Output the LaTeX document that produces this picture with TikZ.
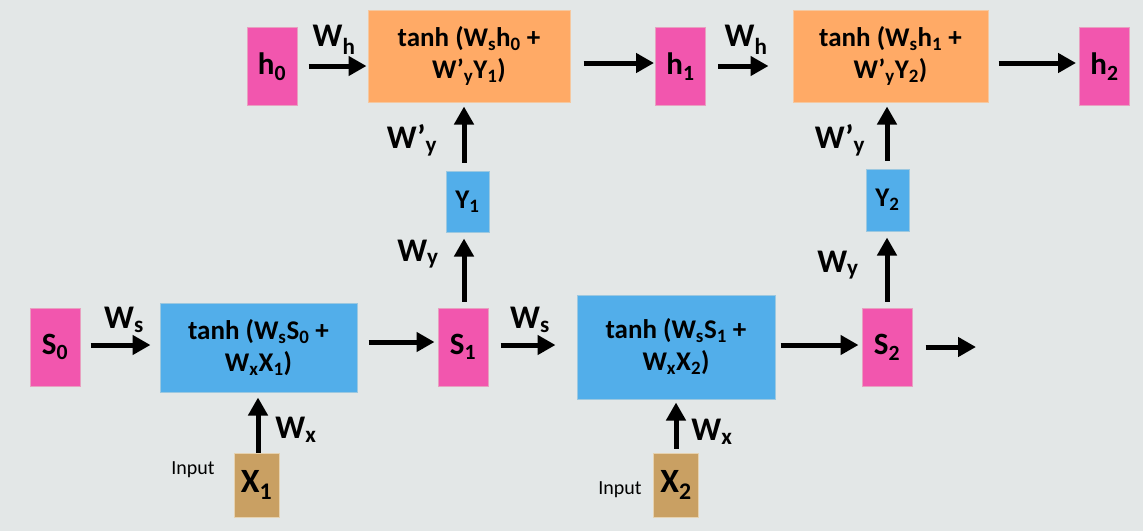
\documentclass[tikz,border=0pt]{standalone}
\usepackage{fontspec}
\setmainfont{Carlito}
\usetikzlibrary{arrows.meta}
\definecolor{bgc}{HTML}{E3E7E7}
\definecolor{pinkc}{HTML}{F256AE}
\definecolor{pinkb}{HTML}{E8A0C0}
\definecolor{orangec}{HTML}{FFAA66}
\definecolor{orangeb}{HTML}{F5C8A0}
\definecolor{bluec}{HTML}{52AEEA}
\definecolor{blueb}{HTML}{9CC8E0}
\definecolor{brownc}{HTML}{C9A063}
\definecolor{brownb}{HTML}{E6D2B0}
\tikzset{
  box/.style={rectangle, inner sep=0pt, line width=1pt, align=center, font=\fontsize{27}{32}\selectfont\bfseries},
  pinkbox/.style={box, fill=pinkc, draw=pinkb, minimum width=50pt, minimum height=78pt, font=\fontsize{31}{33}\selectfont\bfseries},
  orangebox/.style={box, fill=orangec, draw=orangeb, minimum height=92pt},
  bluebox/.style={box, fill=bluec, draw=blueb},
  smallblue/.style={bluebox, minimum width=43pt, font=\fontsize{27}{29}\selectfont\bfseries},
  brownbox/.style={box, fill=brownc, draw=brownb, minimum width=45pt, minimum height=64pt, font=\fontsize{34}{36}\selectfont\bfseries},
  arr/.style={line width=5pt, -{Triangle[length=18pt,width=19pt]}},
  wlab/.style={font=\fontsize{33}{35}\selectfont\bfseries, inner sep=0pt},
  inlab/.style={font=\fontsize{20}{22}\selectfont, inner sep=0pt},
}
\begin{document}
\begin{tikzpicture}[x=1pt,y=-1pt]
\fill[bgc] (0,0) rectangle (1143,531);
\useasboundingbox (0,0) rectangle (1143,531);
% top row
\node[pinkbox] (h0) at (272,66.5) {h\textsubscript{0}};
\node[orangebox, minimum width=202pt] (o1) at (469,56) {tanh (W\textsubscript{s}h\textsubscript{0} +\\W’\textsubscript{y}Y\textsubscript{1})};
\node[pinkbox] (h1) at (680.5,66.5) {h\textsubscript{1}};
\node[orangebox, minimum width=195pt] (o2) at (890.5,56) {tanh (W\textsubscript{s}h\textsubscript{1} +\\W’\textsubscript{y}Y\textsubscript{2})};
\node[pinkbox] (h2) at (1104.5,66.5) {h\textsubscript{2}};
% middle
\node[smallblue, minimum height=61pt] (y1) at (467.5,201.5) {Y\textsubscript{1}};
\node[smallblue, minimum height=62pt] (y2) at (887.5,200) {Y\textsubscript{2}};
% bottom row
\node[pinkbox] (s0) at (55,347) {S\textsubscript{0}};
\node[bluebox, minimum width=197pt, minimum height=89pt] (b1) at (258.5,347.5) {tanh (W\textsubscript{s}S\textsubscript{0} +\\W\textsubscript{x}X\textsubscript{1})};
\node[pinkbox] (s1) at (463,347) {S\textsubscript{1}};
\node[bluebox, minimum width=198pt, minimum height=104pt] (b2) at (676,347) {tanh (W\textsubscript{s}S\textsubscript{1} +\\W\textsubscript{x}X\textsubscript{2})};
\node[pinkbox] (s2) at (887,347) {S\textsubscript{2}};
\coordinate (out) at (976,347);
% inputs
\node[brownbox] (x1) at (256.5,485) {X\textsubscript{1}};
\node[brownbox] (x2) at (676,485) {X\textsubscript{2}};
\node[inlab] (in1) at (193,470) {Input};
\node[inlab] (in2) at (620,490) {Input};
% arrows top
\draw[arr, shorten <=11pt, shorten >=1pt] (h0.east |- 0,66) -- (o1.west |- 0,66);
\draw[arr, shorten <=13pt, shorten >=1pt] (o1.east |- 0,63) -- (h1.west |- 0,63);
\draw[arr, shorten <=12pt, shorten >=24pt] (h1.east |- 0,66) -- (o2.west |- 0,66);
\draw[arr, shorten <=10pt, shorten >=3pt] (o2.east |- 0,63) -- (h2.west |- 0,63);
% arrows bottom
\draw[arr, shorten <=10pt, shorten >=9pt] (s0.east |- 0,345) -- (b1.west |- 0,345);
\draw[arr, shorten <=11pt, shorten >=3pt] (b1.east |- 0,342) -- (s1.west |- 0,342);
\draw[arr, shorten <=12pt, shorten >=21pt] (s1.east |- 0,345) -- (b2.west |- 0,345);
\draw[arr, shorten <=5pt, shorten >=3pt] (b2.east |- 0,345) -- (s2.west |- 0,345);
\draw[arr, shorten <=13pt] (s2.east |- 0,347) -- (out);
% vertical arrows
\draw[arr, shorten <=0pt, shorten >=5pt] (x1.north -| 258,0) -- (b1.south -| 258,0);
\draw[arr, shorten <=4pt, shorten >=3pt] (x2.north -| 676,0) -- (b2.south -| 676,0);
\draw[arr, shorten <=6pt, shorten >=6pt] (s1.north -| 464,0) -- (y1.south -| 464,0);
\draw[arr, shorten <=8pt, shorten >=4pt] (y1.north -| 464,0) -- (o1.south -| 464,0);
\draw[arr, shorten <=6pt, shorten >=6pt] (s2.north -| 887,0) -- (y2.south -| 887,0);
\draw[arr, shorten <=8pt, shorten >=4pt] (y2.north -| 887,0) -- (o2.south -| 887,0);
% weight labels
\node[wlab] (lwh1) at (334,40) {W\textsubscript{h}};
\node[wlab] (lwh2) at (746,40) {W\textsubscript{h}};
\node[wlab] (lws1) at (124,320) {W\textsubscript{s}};
\node[wlab] (lws2) at (530,320) {W\textsubscript{s}};
\node[wlab] (lwx1) at (296,430) {W\textsubscript{x}};
\node[wlab] (lwx2) at (712,432) {W\textsubscript{x}};
\node[wlab] (lwy1) at (418,254) {W\textsubscript{y}};
\node[wlab] (lwy2) at (838,265) {W\textsubscript{y}};
\node[wlab] (lwpy1) at (412,140) {W’\textsubscript{y}};
\node[wlab] (lwpy2) at (840,140) {W’\textsubscript{y}};
\end{tikzpicture}
\end{document}
